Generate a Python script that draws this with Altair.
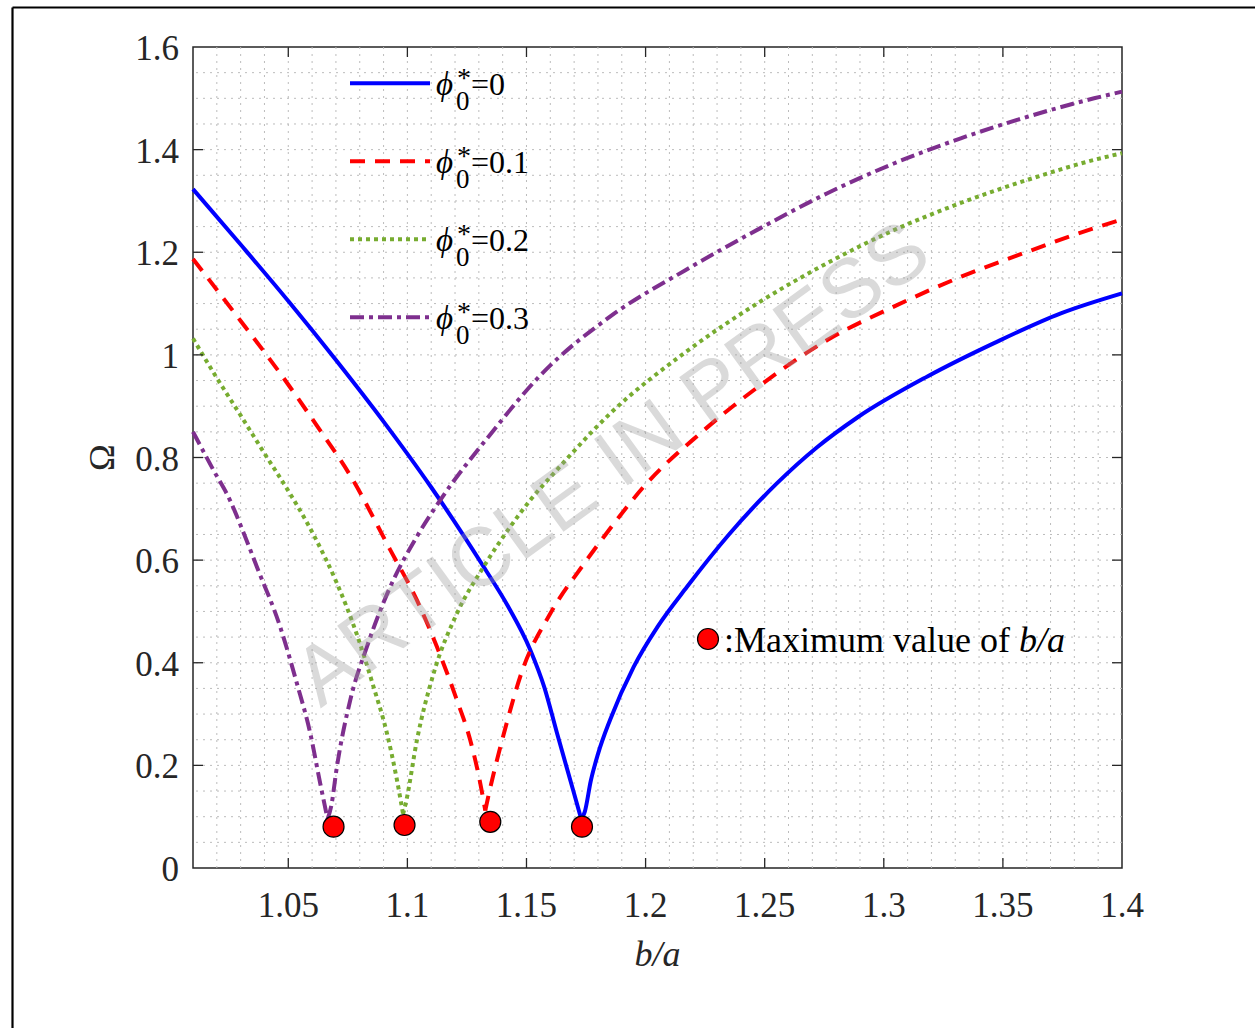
import altair as alt
import pandas as pd

# ---- curve samples: b/a against the frequency parameter Omega ----
# each curve is a falling branch and a rising branch that meet at a cusp
ba_phi0 = [1.010, 1.030, 1.050, 1.070, 1.090, 1.110, 1.132, 1.142, 1.1516, 1.1575, 1.1628, 1.1698, 1.1730,
           1.1745, 1.1770, 1.1800, 1.1852, 1.195, 1.205, 1.2174, 1.235, 1.2552, 1.272, 1.2889, 1.3183,
           1.3463, 1.3743, 1.400]
om_phi0 = [1.323, 1.215, 1.105, 0.990, 0.870, 0.742, 0.587, 0.512, 0.425, 0.352, 0.263, 0.148, 0.095,
           0.110, 0.170, 0.222, 0.290, 0.392, 0.470, 0.548, 0.650, 0.750, 0.820, 0.878, 0.958,
           1.023, 1.081, 1.120]
cusp_phi0 = 12

ba_phi1 = [1.010, 1.0297, 1.0466, 1.062, 1.076, 1.0928, 1.104, 1.1124, 1.1208, 1.1264, 1.1306, 1.1327,
           1.134, 1.1404, 1.1481, 1.160, 1.174, 1.1852, 1.1992, 1.2237, 1.2482, 1.2763, 1.3042,
           1.3323, 1.3603, 1.3883, 1.400]
om_phi1 = [1.187, 1.068, 0.964, 0.862, 0.765, 0.620, 0.522, 0.431, 0.327, 0.249, 0.165, 0.112,
           0.140, 0.260, 0.383, 0.496, 0.592, 0.662, 0.743, 0.850, 0.941, 1.029, 1.094,
           1.152, 1.201, 1.247, 1.264]
cusp_phi1 = 11

ba_phi2 = [1.010, 1.020, 1.030, 1.040, 1.050, 1.058, 1.062, 1.0704, 1.0788, 1.0858, 1.0914, 1.0956, 1.0982,
           1.0995, 1.104, 1.111, 1.1208, 1.132, 1.1432, 1.1516, 1.1628, 1.1852, 1.2167, 1.2482,
           1.2763, 1.3042, 1.3323, 1.3603, 1.3883, 1.400]
om_phi2 = [1.032, 0.955, 0.882, 0.808, 0.735, 0.672, 0.637, 0.555, 0.455, 0.353, 0.263, 0.172, 0.105,
           0.130, 0.249, 0.379, 0.496, 0.587, 0.665, 0.717, 0.776, 0.886, 1.005, 1.104,
           1.179, 1.243, 1.296, 1.341, 1.380, 1.393]
cusp_phi2 = 12

ba_phi3 = [1.010, 1.0185, 1.0255, 1.0311, 1.0368, 1.0466, 1.0536, 1.0592, 1.0634, 1.0665,
           1.0680, 1.0704, 1.076, 1.083, 1.0928, 1.104, 1.1138, 1.1348, 1.1558, 1.1852, 1.2167,
           1.2482, 1.2763, 1.3042, 1.3323, 1.3603, 1.3883, 1.400]
om_phi3 = [0.850, 0.776, 0.717, 0.655, 0.587, 0.470, 0.360, 0.263, 0.165, 0.095,
           0.120, 0.197, 0.327, 0.431, 0.548, 0.646, 0.717, 0.845, 0.960, 1.075, 1.165,
           1.247, 1.315, 1.373, 1.422, 1.464, 1.500, 1.513]
cusp_phi3 = 9

# maximum admissible b/a for each phi0*
max_ba = [1.069, 1.0988, 1.1348, 1.1733]
max_om = [0.0805, 0.0838, 0.090, 0.0805]

phi_values = ["0", "0.1", "0.2", "0.3"]
x_ticks = [1.05, 1.1, 1.15, 1.2, 1.25, 1.3, 1.35, 1.4]
x_tick_labels = ["1.05", "1.1", "1.15", "1.2", "1.25", "1.3", "1.35", "1.4"]
y_ticks = [0, 0.2, 0.4, 0.6, 0.8, 1.0, 1.2, 1.4, 1.6]
y_tick_labels = ["0", "0.2", "0.4", "0.6", "0.8", "1", "1.2", "1.4", "1.6"]
x_minor = [round(1.01 + 0.01 * i, 2) for i in range(1, 39)]
y_minor = [round(0.05 * i, 2) for i in range(1, 32)]

W, H = 929, 821
SERIF = "Liberation Serif"
INK = "#262626"
LW = 4

series = [
    (ba_phi0, om_phi0, cusp_phi0, "#0000ff", None),
    (ba_phi1, om_phi1, cusp_phi1, "#ff0000", [15, 10]),
    (ba_phi2, om_phi2, cusp_phi2, "#77ac30", [4, 4]),
    (ba_phi3, om_phi3, cusp_phi3, "#7e2f8e", [14, 5, 4, 5]),
]

xs = alt.Scale(domain=[1.01, 1.4], nice=False, zero=False)
ys = alt.Scale(domain=[0, 1.6], nice=False, zero=False)
one = pd.DataFrame({"k": [0]})


def X(field):
    return alt.X(field, scale=xs, axis=None)


def Y(field):
    return alt.Y(field, scale=ys, axis=None)


def label(text, x, y, size, style="normal", align="left", angle=0, color="#000000",
          baseline="alphabetic", font=SERIF, opacity=1):
    return alt.Chart(one).mark_text(text=text, font=font, fontSize=size, fontStyle=style,
                                    color=color, align=align, baseline=baseline, angle=angle,
                                    opacity=opacity) \
        .encode(x=alt.value(x), y=alt.value(y))


layers = []

# dotted major + minor grid
grid_style = dict(color="#bcbcbc", strokeWidth=1, strokeDash=[2, 5])
layers.append(alt.Chart(pd.DataFrame({"g": x_minor})).mark_rule(**grid_style).encode(x=X("g:Q")))
layers.append(alt.Chart(pd.DataFrame({"g": y_minor})).mark_rule(**grid_style).encode(y=Y("g:Q")))

# curves: falling branch up to the cusp, rising branch after it
for bx, oy, cusp, col, dash in series:
    df = pd.DataFrame({"ba": bx, "om": oy, "i": list(range(len(bx)))})
    df["branch"] = ["fall" if i <= cusp else "rise" for i in range(len(bx))]
    join = pd.DataFrame({"ba": [bx[cusp]], "om": [oy[cusp]], "i": [cusp + 0.5], "branch": ["rise"]})
    df = pd.concat([df, join], ignore_index=True).sort_values("i")
    kw = dict(color=col, strokeWidth=LW, strokeCap="butt", interpolate="monotone")
    if dash:
        kw["strokeDash"] = dash
    layers.append(alt.Chart(df).mark_line(**kw).encode(
        x=X("ba:Q"), y=Y("om:Q"), order="i:Q", detail="branch:N"))

# maximum-value markers
layers.append(alt.Chart(pd.DataFrame({"ba": max_ba, "om": max_om}))
              .mark_circle(size=440, color="#ff0000", stroke="#000000", strokeWidth=1.2, opacity=1)
              .encode(x=X("ba:Q"), y=Y("om:Q")))

# inward ticks on all four sides
tick_style = dict(color=INK, strokeWidth=1.3)
xt = pd.DataFrame({"t": x_ticks[:-1]})
yt = pd.DataFrame({"t": y_ticks[1:-1]})
for y0, y1 in [(H - 10, H), (0, 10)]:
    layers.append(alt.Chart(xt).mark_rule(**tick_style).encode(
        x=X("t:Q"), y=alt.value(y0), y2=alt.value(y1)))
for x0, x1 in [(0, 10), (W - 10, W)]:
    layers.append(alt.Chart(yt).mark_rule(**tick_style).encode(
        y=Y("t:Q"), x=alt.value(x0), x2=alt.value(x1)))

# tick labels
layers.append(alt.Chart(pd.DataFrame({"t": x_ticks, "s": x_tick_labels}))
              .mark_text(font=SERIF, fontSize=35, color=INK, align="center", baseline="alphabetic")
              .encode(x=X("t:Q"), y=alt.value(H + 49), text="s:N"))
layers.append(alt.Chart(pd.DataFrame({"t": y_ticks, "s": y_tick_labels}))
              .mark_text(font=SERIF, fontSize=35, color=INK, align="right", baseline="alphabetic", dy=13)
              .encode(y=Y("t:Q"), x=alt.value(-14), text="s:N"))

# axis titles
layers.append(label("b/a", W / 2, H + 98, 36, style="italic", align="center", color=INK))
layers.append(label("Ω", -90, H / 2, 36, align="center", angle=270, color=INK, baseline="middle"))

# legend: sample line, phi with superscript * and subscript 0, then the value
for n, (bx, oy, cusp, col, dash) in enumerate(series):
    ly = 36.3 + 78.0 * n
    kw = dict(color=col, strokeWidth=LW, strokeCap="butt")
    if dash:
        kw["strokeDash"] = dash
    layers.append(alt.Chart(one).mark_rule(**kw).encode(
        x=alt.value(157), x2=alt.value(237), y=alt.value(ly)))
    layers.append(label("ϕ", 243, ly + 12, 33, style="italic"))
    layers.append(label("*", 264, ly + 4, 28))
    layers.append(label("0", 263, ly + 27, 27))
    layers.append(label("=" + phi_values[n], 278, ly + 12, 32))

# marker key
layers.append(alt.Chart(one).mark_circle(size=440, color="#ff0000", stroke="#000000",
                                         strokeWidth=1.2, opacity=1)
              .encode(x=alt.value(515), y=alt.value(592)))
layers.append(label(":Maximum value of ", 531, 605, 36))
layers.append(label("b/a", 826, 605, 36, style="italic"))

# watermark
layers.append(label("ARTICLE IN PRESS", 420, 418, 83, align="center", angle=324,
                    color="#9a9a9a", baseline="middle", font="Liberation Sans", opacity=0.36))

# figure frame (left and top edges)
layers.append(alt.Chart(one).mark_rule(color="#000000", strokeWidth=2.2).encode(
    x=alt.value(-180.5), y=alt.value(-39.5), y2=alt.value(1000)))
layers.append(alt.Chart(one).mark_rule(color="#000000", strokeWidth=2.2).encode(
    x=alt.value(-180.5), x2=alt.value(1080), y=alt.value(-39.5)))

chart = alt.layer(*layers).properties(
    width=W, height=H,
    autosize=alt.AutoSizeParams(type="none"),
    padding={"left": 193, "top": 47, "right": 133, "bottom": 160},
    background="white",
).configure_view(stroke=INK, strokeWidth=1.5)

chart.save("out.html", embed_options={"renderer": "svg", "actions": False})
